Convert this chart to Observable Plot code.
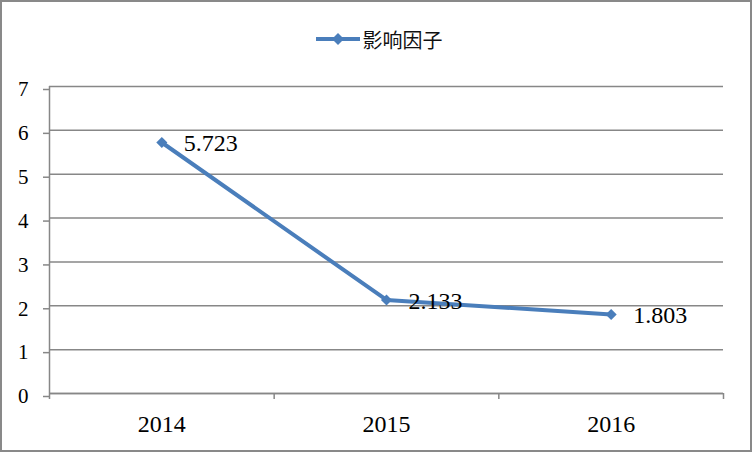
<!DOCTYPE html>
<html><head><meta charset="utf-8">
<script src="https://cdn.jsdelivr.net/npm/d3@7"></script>
<script src="https://cdn.jsdelivr.net/npm/@observablehq/plot@0.6"></script>
<style>
body{margin:0;background:#fff}
#wrap{width:752px;height:452px;box-sizing:border-box;border:2px solid #898989;background:#fff;overflow:hidden}
#legend{height:58px;box-sizing:border-box;padding-top:16px;padding-left:6px;display:flex;align-items:center;justify-content:center;font-family:"Noto Sans CJK SC";font-size:20px;color:#111}
#legend svg{margin-right:3px}
#chart svg{display:block}
</style>
</head><body>
<div id="wrap">
  <div id="legend"></div>
  <div id="chart"></div>
</div>
<script>
const years = ["2014", "2015", "2016"];
const values = [5.723, 2.133, 1.803];
const yTicks = [0, 1, 2, 3, 4, 5, 6, 7];
const seriesName = "影响因子";
const lineColor = "#4A7EBB";
const gridColor = "#878787";

const data = years.map((year, i) => ({year, value: values[i], pos: i + 0.5}));
const bounds = d3.range(years.length + 1);

// legend
document.getElementById("legend").innerHTML =
  `<svg width="44" height="14"><line x1="0" x2="44" y1="7" y2="7" stroke="${lineColor}" stroke-width="4"/><path d="M22,1L28,7L22,13L16,7Z" fill="${lineColor}"/></svg><span>${seriesName}</span>`;

const chart = Plot.plot({
  width: 748,
  height: 390,
  marginLeft: 47,
  marginRight: 27,
  marginTop: 26,
  marginBottom: 57,
  x: {domain: [0, years.length], axis: null},
  y: {domain: [0, 7], axis: null},
  style: {fontFamily: "'Liberation Serif', serif", background: "white", overflow: "visible"},
  marks: [
    Plot.gridY(yTicks, {stroke: gridColor, strokeOpacity: 1, strokeWidth: 1.5}),
    Plot.axisY(yTicks, {label: null, tickSize: 6, stroke: gridColor, strokeWidth: 1.5, strokeOpacity: 1, tickPadding: 15, fontSize: 21, tickFormat: d => d, fill: "black", dy: 3}),
    Plot.axisX(bounds, {label: null, tickSize: 6, stroke: gridColor, strokeWidth: 1.5, strokeOpacity: 1, tickFormat: () => ""}),
    Plot.axisX(data.map(d => d.pos), {label: null, tickSize: 0, tickPadding: 21, fontSize: 24, fill: "black", tickFormat: d => years[Math.floor(d)]}),
    Plot.ruleX([0], {stroke: gridColor, strokeWidth: 1.5}),
    Plot.ruleY([0], {stroke: gridColor, strokeWidth: 1.5}),
    Plot.line(data, {x: "pos", y: "value", stroke: lineColor, strokeWidth: 4}),
    Plot.dot(data, {x: "pos", y: "value", symbol: "diamond2", r: 5, fill: lineColor, stroke: "none"}),
    Plot.text(data, {x: "pos", y: "value", text: d => d.value.toFixed(3), textAnchor: "start", dx: 22, dy: 1, fontSize: 24, fill: "black"})
  ]
});
document.getElementById("chart").appendChild(chart);
</script>
</body></html>
